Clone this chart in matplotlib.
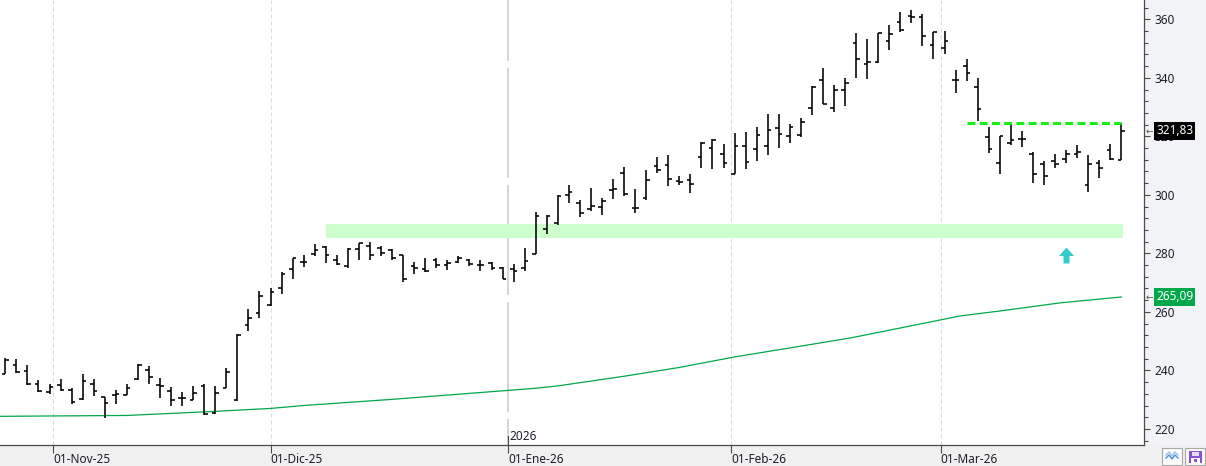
import numpy as np
import pandas as pd
import matplotlib
matplotlib.use("Agg")
import matplotlib.pyplot as plt
from matplotlib.path import Path
from matplotlib.patches import Rectangle
from matplotlib.ticker import MultipleLocator
from matplotlib.transforms import blended_transform_factory
from matplotlib.lines import Line2D

plt.rcParams['font.family'] = ['Noto Sans', 'DejaVu Sans']

# ---------------- data ----------------
holidays = ["2025-11-27", "2025-12-25", "2026-01-01", "2026-01-19", "2026-02-16"]
dates = pd.bdate_range("2025-10-27", "2026-03-24")
dates = dates[~dates.isin(pd.to_datetime(holidays))]

opens = [238.9, 241.9, 239.8, 235.2, 232.7, 235.0, 233.4, 230.2, 235.5, 230.9,
         231.7, 231.6, 236.9, 240.1, 235.0, 232.9, 230.7, 229.8, 234.8, 225.4,
         234.1, 230.0, 255.4, 259.7, 262.3, 268.0, 274.5, 277.2, 279.7, 282.2,
         277.6, 275.7, 281.4, 282.5, 281.7, 281.1, 279.4, 275.7, 274.6, 277.6,
         276.0, 277.2, 277.7, 275.9, 276.8, 275.1, 274.5, 274.9, 279.7, 288.4,
         290.4, 299.8, 297.2, 295.1, 295.7, 301.7, 307.5, 295.5, 298.9, 309.7,
         310.1, 304.9, 305.1, 313.1, 316.1, 314.1, 307.0, 316.7, 315.8, 316.6,
         323.0, 320.0, 320.6, 329.8, 339.4, 329.8, 335.8, 351.8, 344.6, 345.3,
         352.6, 359.0, 361.1, 360.9, 351.2, 350.1, 339.2, 344.0, 336.7, 319.8,
         311.0, 317.7, 319.2, 314.1, 310.4, 311.5, 312.3, 313.8, 303.5, 311.0,
         315.4, 312.0]
highs = [244.1, 243.9, 241.7, 236.6, 235.4, 237.0, 234.1, 238.6, 237.0, 230.9,
         233.2, 235.2, 242.1, 241.5, 237.5, 234.3, 232.6, 234.5, 235.2, 234.5,
         240.7, 252.5, 260.9, 267.3, 268.3, 273.7, 278.5, 279.4, 283.1, 282.5,
         279.4, 281.7, 283.6, 284.0, 282.5, 281.4, 279.4, 277.2, 278.3, 278.3,
         277.6, 279.2, 278.1, 277.6, 277.0, 275.3, 276.2, 281.7, 294.3, 293.2,
         299.8, 303.2, 298.3, 302.4, 299.0, 305.5, 309.4, 302.1, 308.4, 313.1,
         313.5, 306.6, 307.0, 318.1, 319.2, 317.3, 321.3, 321.4, 323.2, 327.5,
         327.8, 324.1, 326.4, 337.3, 343.5, 337.7, 340.0, 355.2, 353.3, 355.4,
         358.1, 362.4, 363.2, 361.8, 355.8, 356.0, 342.6, 346.4, 340.0, 323.2,
         320.0, 324.3, 321.8, 314.6, 311.5, 313.8, 315.2, 316.9, 313.5, 312.0,
         317.5, 324.6]
lows = [238.6, 239.1, 235.0, 232.7, 231.8, 232.9, 228.6, 230.0, 231.4, 223.6,
        228.4, 231.6, 236.6, 235.5, 230.4, 227.9, 227.9, 229.8, 224.7, 225.0,
        233.9, 229.5, 253.4, 258.0, 262.0, 266.0, 271.4, 275.4, 279.1, 276.8,
        276.0, 275.1, 277.9, 277.9, 279.1, 277.7, 270.3, 272.8, 273.7, 275.1,
        274.4, 276.8, 275.7, 274.0, 274.4, 271.1, 270.3, 273.9, 279.7, 286.6,
        289.7, 297.1, 292.3, 294.5, 293.0, 298.5, 299.6, 293.7, 298.3, 307.4,
        303.0, 303.5, 300.6, 309.3, 308.9, 309.3, 307.0, 308.9, 311.5, 313.7,
        316.1, 317.7, 319.8, 327.2, 331.0, 328.3, 330.3, 340.0, 339.5, 344.9,
        349.5, 355.8, 358.6, 351.0, 346.5, 348.3, 334.9, 339.0, 325.3, 314.3,
        307.2, 316.9, 316.3, 304.0, 303.2, 309.3, 310.9, 312.7, 300.9, 305.8,
        312.0, 312.0]
closes = [243.4, 239.3, 235.2, 232.9, 234.4, 233.2, 229.3, 236.4, 232.9, 228.7,
          232.0, 234.1, 241.8, 237.7, 234.7, 230.0, 230.7, 232.3, 225.2, 232.3,
          239.3, 252.1, 258.0, 265.4, 266.7, 272.8, 278.3, 277.2, 281.0, 279.4,
          276.2, 281.4, 283.4, 279.4, 280.2, 278.3, 271.1, 275.1, 274.0, 276.0,
          276.8, 278.5, 276.5, 275.9, 274.9, 271.1, 274.0, 277.4, 292.8, 292.9,
          299.5, 301.0, 293.8, 296.2, 297.8, 302.1, 300.3, 295.5, 305.2, 308.6,
          305.5, 304.3, 303.8, 317.7, 318.9, 310.9, 316.7, 311.3, 320.3, 322.3,
          320.7, 323.2, 324.9, 336.9, 331.2, 335.8, 338.1, 346.6, 345.3, 355.4,
          355.0, 356.3, 360.9, 354.3, 355.8, 352.6, 339.2, 341.5, 329.5, 315.8,
          320.0, 318.9, 319.2, 307.2, 306.3, 310.6, 313.8, 314.6, 310.4, 309.3,
          312.3, 321.83]

# moving average (bar index, value)
ma_idx = [-0.5, 11, 19, 24, 27, 35, 45.6, 48, 50, 56, 61, 66, 72, 76.5, 81, 86.4, 90, 95.5, 101]
ma_val = [224.3, 224.6, 226.0, 227.0, 228.0, 230.1, 233.2, 233.9, 234.7, 238.0,
          241.0, 244.6, 248.3, 251.1, 254.5, 258.6, 260.3, 263.1, 265.09]

month_starts = ["2025-11-01", "2025-12-01", "2026-01-01", "2026-02-01", "2026-03-01"]
month_labels = ["01-Nov-25", "01-Dic-25", "01-Ene-26", "01-Feb-26", "01-Mar-26"]
year_label = "2026"

zone_low, zone_high = 285.2, 290.0
zone_start, zone_end = 29, 101
level = 324.7
level_start, level_end = 87, 101
signal_idx, signal_price = 96, 279.5
last_close_label = "321,83"
ma_last_label = "265,09"

# ---------------- layout ----------------
W, H = 1206, 466
fig = plt.figure(figsize=(W / 100, H / 100), dpi=100, facecolor='#f0f0f0')
ax_left, ax_right, ax_top, ax_bottom = 0, 1144, 0, 445
ax = fig.add_axes([ax_left / W, (H - ax_bottom) / H, (ax_right - ax_left) / W, (ax_bottom - ax_top) / H])
ax.set_facecolor('white')

def fpx(x, y):
    return x / W, (H - y) / H

# right price panel background
x0, y0 = fpx(ax_right, ax_bottom)
fig.patches.append(Rectangle((x0, y0), 1 - x0, 1 - y0, transform=fig.transFigure,
                             facecolor='#f2f3f7', edgecolor='none', zorder=-5))

n = len(closes)
idx = np.arange(n)
ax.set_xlim(-0.48, 103.05)
ax.set_ylim(214.5, 366.6)

# month positions from calendar time
d_num = dates.values.astype('datetime64[D]').astype(np.int64)
m_num = pd.to_datetime(month_starts).values.astype('datetime64[D]').astype(np.int64)
month_pos = np.interp(m_num, d_num, idx)

# grid
ax.yaxis.set_major_locator(MultipleLocator(20))
ax.yaxis.set_minor_locator(MultipleLocator(4))
ax.grid(axis='y', which='major', color='#dadada', linestyle=(0, (4, 3)), lw=0.72)
for t in ax.yaxis.get_major_ticks():
    if t.get_loc() < 230:
        t.gridline.set_visible(False)
for i, p in enumerate(month_pos):
    if month_labels[i] == "01-Ene-26":
        ax.axvline(p, color='#c9c9c9', lw=1.1, linestyle=(55, (72, 4.6)), zorder=0.6)
    else:
        ax.axvline(p, color='#dadada', lw=0.72, linestyle=(0, (4, 3)), zorder=0.6)

# axes styling
for s in ['top', 'left']:
    ax.spines[s].set_visible(False)
for s in ['right', 'bottom']:
    ax.spines[s].set_color('#4a4a4a')
    ax.spines[s].set_linewidth(0.9)
ax.yaxis.tick_right()
ax.tick_params(axis='y', which='major', direction='out', length=4.3, width=0.8,
               color='#4a4a4a', labelsize=8.5, labelcolor='#1e1e2a', pad=3.2)
ax.tick_params(axis='y', which='minor', direction='out', length=2.6, width=0.8, color='#4a4a4a')
ax.set_xticks(month_pos, labels=month_labels)
ax.tick_params(axis='x', direction='out', length=5.8, width=0.8, color='#4a4a4a',
               labelsize=8.5, labelcolor='#1e1e2a', pad=0.3)
for lab in ax.get_xticklabels():
    lab.set_ha('left')

# year marker
jan_pos = month_pos[month_labels.index("01-Ene-26")]
ax.axvline(jan_pos, ymin=0, ymax=9 / 445, color='#4a4a4a', lw=0.8, zorder=3)
ax.annotate(year_label, xy=(jan_pos, 0), xycoords=('data', 'axes fraction'),
            xytext=(1.2, 1.6), textcoords='offset points', ha='left', va='bottom',
            fontsize=8.5, color='#1e1e2a')

# support zone
ax.add_patch(Rectangle((zone_start, zone_low), zone_end + 0.12 - zone_start, zone_high - zone_low,
                       facecolor='#ccffcc', edgecolor='none', zorder=0.8))

# moving average
ax.plot(ma_idx, ma_val, color='#00a84a', lw=0.9, zorder=2)

# OHLC bars
tw = 0.33
ax.vlines(idx, lows, highs, colors='black', lw=1.15, zorder=3)
ax.hlines(opens, idx - tw, idx, colors='black', lw=1.15, zorder=3)
ax.hlines(closes, idx, idx + tw, colors='black', lw=1.15, zorder=3)

# resistance level
ax.hlines(level, level_start, level_end, colors='#19ec19', lw=2.2,
          linestyles=[(0, (2.6, 1.4))], zorder=4)

# signal arrow
arrow = Path([(0, 8), (7.5, -0.5), (3, -0.5), (3, -8), (-3, -8), (-3, -0.5), (-7.5, -0.5), (0, 8)],
             [Path.MOVETO] + [Path.LINETO] * 6 + [Path.CLOSEPOLY])
ax.plot([signal_idx], [signal_price], marker=arrow, ms=11.5, color='#33cccc',
        markeredgewidth=0, linestyle='none', zorder=5)

# price labels on the axis
trans = blended_transform_factory(ax.transAxes, ax.transData)
for val, txt, fc in [(closes[-1], last_close_label, 'black'), (ma_val[-1], ma_last_label, '#00a84a')]:
    ax.text(1.0105, val, txt, transform=trans, color='white', fontsize=8.5, va='center', ha='left',
            bbox=dict(boxstyle='square,pad=0.18', fc=fc, ec='none'), clip_on=False, zorder=10)
    ax.text(1.0012, val, '\u2190', transform=trans, color='#555555', fontsize=6.5, va='center',
            ha='left', clip_on=False, zorder=10)

# bottom-right buttons
for bx in [1162, 1185]:
    xa, ya = fpx(bx, 465)
    fig.patches.append(Rectangle((xa, ya), 20 / W, 17 / H, transform=fig.transFigure,
                                 facecolor='#fbfbfb', edgecolor='#a8a8a8', lw=0.8, zorder=5))
zx = [1166, 1169, 1172, 1175, 1178]
for dy, c in [(0, '#9cc3e6'), (3, '#4d8fd1')]:
    fig.lines.append(Line2D([fpx(x, 0)[0] for x in zx],
                            [fpx(0, y + dy)[1] for y in [455, 452, 456, 452, 455]],
                            transform=fig.transFigure, color=c, lw=1.0, zorder=6))
px0, py0 = fpx(1189, 463)
fig.patches.append(Rectangle((px0, py0), 13 / W, 12 / H, transform=fig.transFigure,
                             facecolor='#8a4fd3', edgecolor='none', zorder=6))
px1, py1 = fpx(1192, 456)
fig.patches.append(Rectangle((px1, py1), 7 / W, 4 / H, transform=fig.transFigure,
                             facecolor='#e9dcf7', edgecolor='none', zorder=7))
px2, py2 = fpx(1191, 463)
fig.patches.append(Rectangle((px2, py2), 9 / W, 5 / H, transform=fig.transFigure,
                             facecolor='#ffffff', edgecolor='none', zorder=7))
px3, py3 = fpx(1194, 462)
fig.patches.append(Rectangle((px3, py3), 3 / W, 3 / H, transform=fig.transFigure,
                             facecolor='#8a4fd3', edgecolor='none', zorder=8))

fig.savefig('out.png', dpi=100, facecolor=fig.get_facecolor())
